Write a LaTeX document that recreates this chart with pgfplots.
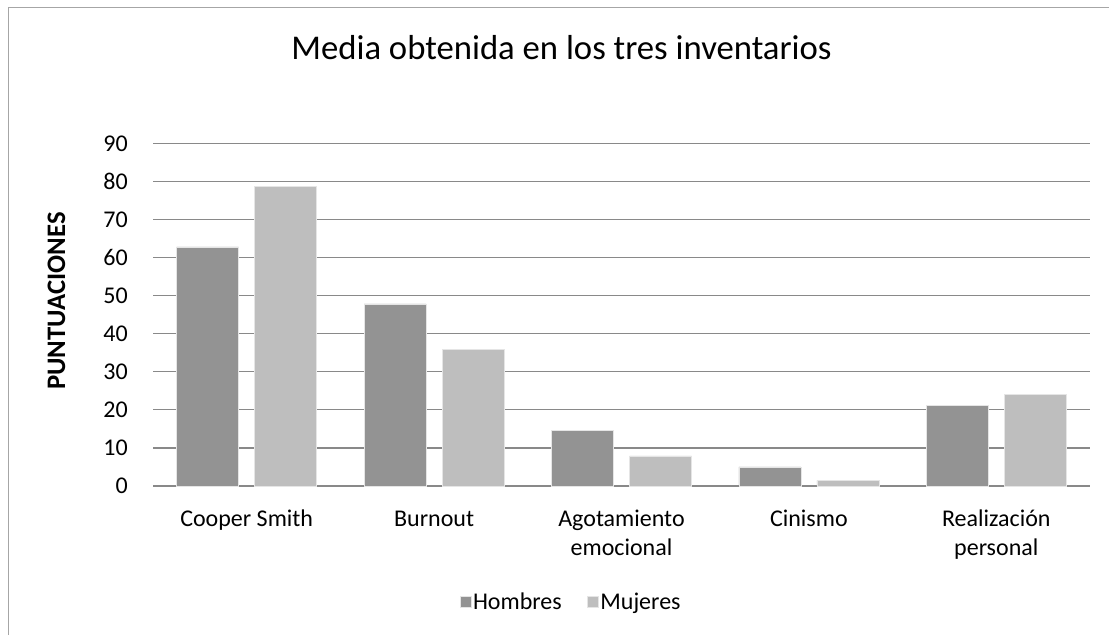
\documentclass[border=0pt]{standalone}
\usepackage{fontspec}
\setmainfont{Carlito}
\usepackage{pgfplots}
\pgfplotsset{compat=1.18}
\definecolor{hom}{HTML}{939393}
\definecolor{muj}{HTML}{BEBEBE}
\definecolor{gridc}{HTML}{898989}
\begin{document}
\begin{tikzpicture}[x=1pt,y=1pt]
\path[use as bounding box] (0,0) rectangle (1109,635);
\draw[color=black!35, line width=1.2pt] (8.5,0) -- (8.5,627.5) -- (1109,627.5);
\node[anchor=base, font=\fontsize{34.7}{40}\selectfont] at (561.5,575) {Media obtenida en los tres inventarios};
\node[anchor=base, rotate=90, font=\fontsize{26.7}{30}\selectfont\bfseries] at (65,334) {PUNTUACIONES};
\begin{axis}[
  at={(153pt,149pt)}, anchor=south west,
  scale only axis, width=937pt, height=342.7pt,
  xmin=-0.5, xmax=4.5, ymin=0, ymax=90,
  ybar=16pt, bar width=62pt,
  axis x line*=bottom, axis y line*=left,
  y axis line style={draw=none},
  x axis line style={draw=gridc, line width=1.8pt},
  major tick length=0pt,
  ytick={0,10,...,90},
  ymajorgrids, grid style={draw=gridc, line width=1.3pt},
  xtick={0,1,2,3,4},
  xticklabels={{Cooper Smith\\\mbox{}}, {Burnout\\\mbox{}}, {Agotamiento\\emocional}, {Cinismo\\\mbox{}}, {Realización\\personal}},
  xticklabel style={align=center, anchor=base, inner sep=0pt, yshift=-69pt, font=\fontsize{24}{29}\selectfont},
  yticklabel style={anchor=east, inner sep=0pt, xshift=-25pt, font=\fontsize{24}{29}\selectfont},
  /pgf/number format/assume math mode=true,
  legend columns=2,
  legend style={at={(0.4461,-0.3385)}, anchor=center, draw=none, fill=none, inner sep=0pt,
    font=\fontsize{24}{29}\selectfont, nodes={inner sep=1.5pt},
    /tikz/every even column/.append style={column sep=24pt}},
  legend image code/.code={\fill[#1] (0pt,-5.5pt) rectangle (11pt,5.5pt);},
]
\addplot[fill=hom, draw=white!90!black, line width=0.6pt] coordinates {(0,62.8) (1,47.8) (2,14.7) (3,5.0) (4,21.1)};
\addplot[fill=muj, draw=white!90!black, line width=0.6pt] coordinates {(0,78.6) (1,35.8) (2,7.9) (3,1.5) (4,24.0)};
\legend{Hombres, Mujeres}
\end{axis}
\end{tikzpicture}
\end{document}
